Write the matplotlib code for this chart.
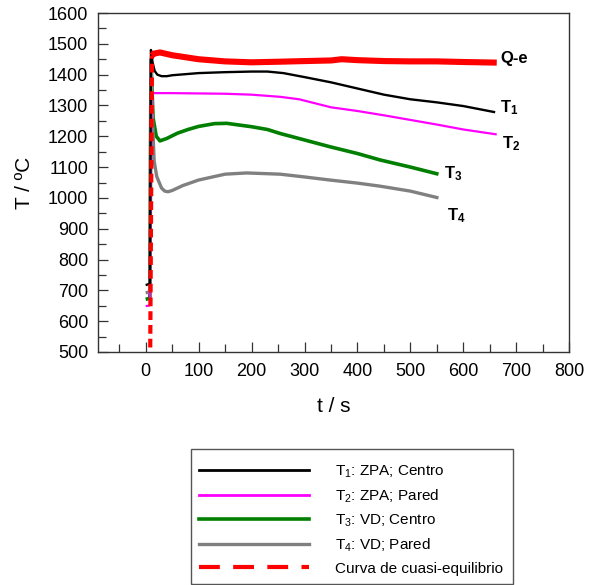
import matplotlib
matplotlib.use("Agg")
import matplotlib.pyplot as plt
from matplotlib.lines import Line2D
from matplotlib.patches import Rectangle

plt.rcParams['font.family'] = ['Liberation Sans', 'DejaVu Sans']
plt.rcParams['mathtext.fontset'] = 'custom'
plt.rcParams['mathtext.rm'] = 'Liberation Sans'
plt.rcParams['mathtext.it'] = 'Liberation Sans:italic'
plt.rcParams['mathtext.bf'] = 'Liberation Sans:bold'

# ---- data ----
t1 = [0, 5, 8, 10, 13, 17, 22, 30, 40, 50, 100, 150, 200, 230, 260, 300, 350, 400, 450, 500, 550, 600, 660]
T1 = [717, 720, 722, 1480, 1440, 1412, 1400, 1395, 1395, 1398, 1405, 1408, 1410, 1410, 1405, 1392, 1375, 1355, 1335, 1320, 1310, 1298, 1278]

t2 = [0, 5, 8, 11, 15, 50, 100, 150, 200, 254, 290, 350, 400, 450, 500, 550, 600, 663]
T2 = [649, 650, 652, 1340, 1340, 1340, 1339, 1338, 1335, 1328, 1320, 1294, 1282, 1268, 1253, 1238, 1222, 1206]

t3 = [0, 5, 8, 10, 14, 20, 27, 40, 60, 80, 100, 130, 153, 200, 230, 254, 300, 348, 400, 443, 500, 553]
T3 = [671, 673, 675, 1440, 1260, 1200, 1185, 1193, 1210, 1222, 1232, 1241, 1242, 1231, 1222, 1209, 1188, 1166, 1144, 1123, 1100, 1077]

t4 = [0, 5, 8, 10, 13, 16, 21, 30, 36, 42, 50, 70, 100, 150, 191, 254, 300, 348, 400, 443, 500, 553]
T4 = [692, 694, 695, 1450, 1250, 1120, 1069, 1032, 1022, 1020, 1024, 1040, 1058, 1077, 1081, 1077, 1068, 1058, 1048, 1038, 1022, 1000]

tq_v = [8.5, 12]
Tq_v = [470, 1462]
tq = [12, 15, 27, 50, 100, 150, 200, 254, 300, 350, 370, 400, 450, 500, 550, 600, 663]
Tq = [1462, 1468, 1472, 1463, 1450, 1443, 1440, 1442, 1444, 1446, 1450, 1447, 1444, 1443, 1443, 1441, 1439]

labels = ['T$_\\mathregular{1}$: ZPA; Centro', 'T$_\\mathregular{2}$: ZPA; Pared',
          'T$_\\mathregular{3}$: VD; Centro', 'T$_\\mathregular{4}$: VD; Pared',
          'Curva de cuasi-equilibrio']

fig = plt.figure(figsize=(5.97, 5.85), dpi=100)
ax = fig.add_axes([98/597, 1-352/585, (569.3-98)/597, (352-13)/585])

ax.plot(t3, T3, color='#007f00', lw=2.6, solid_capstyle='butt', solid_joinstyle='round')
ax.plot(t4, T4, color='#808080', lw=2.4, solid_capstyle='butt', solid_joinstyle='round')
ax.plot(t2, T2, color='#ff00ff', lw=1.6, solid_capstyle='butt')
ax.plot(t1, T1, color='black', lw=1.7, solid_capstyle='butt', solid_joinstyle='round')
ax.plot(tq, Tq, color='#ff0000', lw=4.4, solid_capstyle='butt')
ax.plot(tq_v, Tq_v, color='#ff0000', lw=3.0, dashes=(2.1, 1.2))

ax.set_xlim(-90, 800)
ax.set_ylim(500, 1600)
ax.set_xticks(range(0, 801, 100))
ax.set_xticks(range(-50, 800, 100), minor=True)
ax.set_yticks(range(500, 1601, 100))
ax.set_yticks(range(550, 1600, 100), minor=True)
ax.tick_params(which='both', direction='in', top=False, right=False, labelsize=13, color='#333333')
ax.tick_params(which='major', length=7.5, width=0.9)
ax.tick_params(which='minor', length=5.5, width=0.9)
ax.tick_params(axis='y', pad=7)
ax.tick_params(axis='x', pad=8)
for s in ax.spines.values():
    s.set_linewidth(1.0)
    s.set_color('#333333')

ax.set_xlabel('t / s', fontsize=15, labelpad=12)
ax.set_ylabel('T / ºC', fontsize=15, labelpad=10)

# curve labels
kw = dict(fontsize=12, fontweight='bold', ha='center', va='center')
ax.text(696, 1451, 'Q-e', **kw)
ax.text(686, 1293, '$\\mathbf{T_1}$', **kw)
ax.text(691, 1176, '$\\mathbf{T_2}$', **kw)
ax.text(581, 1079, '$\\mathbf{T_3}$', **kw)
ax.text(587, 942, '$\\mathbf{T_4}$', **kw)

handles = [Line2D([], [], color='black', lw=2.0),
           Line2D([], [], color='#ff00ff', lw=2.0),
           Line2D([], [], color='#007f00', lw=2.6),
           Line2D([], [], color='#808080', lw=2.4),
           Line2D([], [], color='#ff0000', lw=3.0, dashes=(5, 3.2))]
leg = fig.legend(handles, labels, loc='upper left', bbox_to_anchor=(191/597, 1-456/585),
                 fontsize=11, frameon=False, handlelength=7.2,
                 handletextpad=1.7, labelspacing=0.50, borderpad=0.5, borderaxespad=0)

fig.add_artist(Rectangle((191/597, 1-584/585), (513-191)/597, (584-449)/585,
                         transform=fig.transFigure, fill=False, edgecolor='#555555', lw=1.0))

fig.savefig('out.png', dpi=100)
